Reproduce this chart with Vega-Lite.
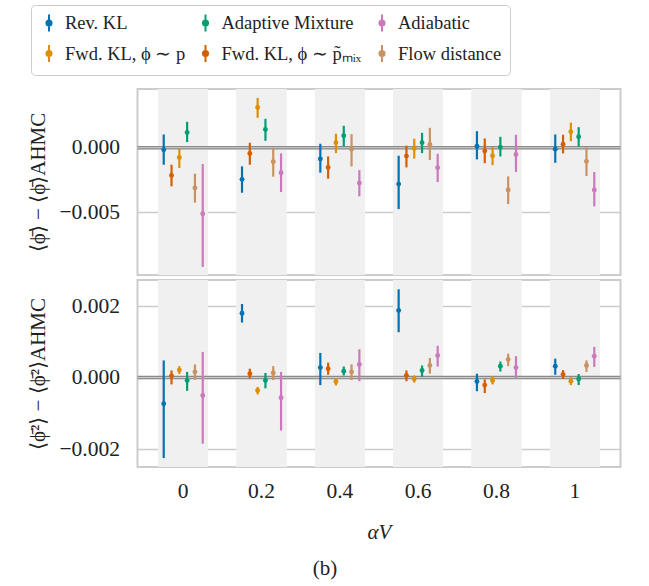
{
  "$schema": "https://vega.github.io/schema/vega-lite/v6.json",
  "padding": {"left": 26.5, "top": 4, "right": 5, "bottom": 5},
  "config": {
    "font": "'Liberation Serif', 'Times New Roman', Times, serif",
    "view": {"stroke": "#cccccc", "strokeWidth": 2},
    "axis": {"labelFont": "'Liberation Serif', 'Times New Roman', Times, serif", "titleFont": "'Liberation Serif', 'Times New Roman', Times, serif", "labelColor": "#222222", "titleColor": "#222222"},
    "legend": {"labelFont": "'Liberation Serif', 'Times New Roman', Times, serif"}
  },
  "title": {"text": "(b)", "orient": "bottom", "anchor": "middle", "frame": "bounds", "fontSize": 21, "fontWeight": "normal", "font": "'Liberation Serif', 'Times New Roman', Times, serif", "color": "#222222", "offset": 14},
  "data": {"values": [
    {"a": "0", "method": "Rev. KL", "m1": -0.00016, "m1lo": -0.00132, "m1hi": 0.00103, "m2": -0.00073, "m2lo": -0.00225, "m2hi": 0.00048},
    {"a": "0", "method": "Fwd. KL, ϕ ∼ p̃ₘᵢₓ", "m1": -0.00215, "m1lo": -0.0030, "m1hi": -0.00132, "m2": 0.00005, "m2lo": -0.00019, "m2hi": 0.0002},
    {"a": "0", "method": "Fwd. KL, ϕ ∼ p", "m1": -0.00075, "m1lo": -0.00158, "m1hi": -0.00008, "m2": 0.00021, "m2lo": 0.0001, "m2hi": 0.00032},
    {"a": "0", "method": "Adaptive Mixture", "m1": 0.00119, "m1lo": 0.00044, "m1hi": 0.00202, "m2": -0.00008, "m2lo": -0.00037, "m2hi": 0.00016},
    {"a": "0", "method": "Flow distance", "m1": -0.00313, "m1lo": -0.00427, "m1hi": -0.00202, "m2": 0.00016, "m2lo": -0.00006, "m2hi": 0.00037},
    {"a": "0", "method": "Adiabatic", "m1": -0.00513, "m1lo": -0.00927, "m1hi": -0.00127, "m2": -0.0005, "m2lo": -0.00185, "m2hi": 0.00072},
    {"a": "0.2", "method": "Rev. KL", "m1": -0.00246, "m1lo": -0.0035, "m1hi": -0.00145, "m2": 0.0018, "m2lo": 0.00154, "m2hi": 0.00206},
    {"a": "0.2", "method": "Fwd. KL, ϕ ∼ p̃ₘᵢₓ", "m1": -0.00044, "m1lo": -0.00132, "m1hi": 0.00039, "m2": 0.00011, "m2lo": -0.00003, "m2hi": 0.00025},
    {"a": "0.2", "method": "Fwd. KL, ϕ ∼ p", "m1": 0.00313, "m1lo": 0.00233, "m1hi": 0.00388, "m2": -0.00036, "m2lo": -0.00047, "m2hi": -0.00026},
    {"a": "0.2", "method": "Adaptive Mixture", "m1": 0.00142, "m1lo": 0.00054, "m1hi": 0.00225, "m2": -0.00008, "m2lo": -0.0003, "m2hi": 0.00013},
    {"a": "0.2", "method": "Flow distance", "m1": -0.00109, "m1lo": -0.00225, "m1hi": 0.0, "m2": 0.00013, "m2lo": -0.00007, "m2hi": 0.00032},
    {"a": "0.2", "method": "Adiabatic", "m1": -0.00194, "m1lo": -0.00345, "m1hi": -0.00044, "m2": -0.00056, "m2lo": -0.00148, "m2hi": 0.00016},
    {"a": "0.4", "method": "Rev. KL", "m1": -0.00088, "m1lo": -0.00194, "m1hi": 0.00031, "m2": 0.00028, "m2lo": -0.00021, "m2hi": 0.00069},
    {"a": "0.4", "method": "Fwd. KL, ϕ ∼ p̃ₘᵢₓ", "m1": -0.00153, "m1lo": -0.00241, "m1hi": -0.00068, "m2": 0.00025, "m2lo": 0.00008, "m2hi": 0.00042},
    {"a": "0.4", "method": "Fwd. KL, ϕ ∼ p", "m1": 0.00039, "m1lo": -0.00042, "m1hi": 0.00109, "m2": -0.00011, "m2lo": -0.00022, "m2hi": -0.00001},
    {"a": "0.4", "method": "Adaptive Mixture", "m1": 0.00093, "m1lo": 0.0001, "m1hi": 0.00171, "m2": 0.00018, "m2lo": 0.00006, "m2hi": 0.00031},
    {"a": "0.4", "method": "Flow distance", "m1": -0.00011, "m1lo": -0.00145, "m1hi": 0.00106, "m2": 0.00016, "m2lo": -0.00007, "m2hi": 0.00037},
    {"a": "0.4", "method": "Adiabatic", "m1": -0.00275, "m1lo": -0.00378, "m1hi": -0.00174, "m2": 0.00037, "m2lo": -0.0001, "m2hi": 0.00079},
    {"a": "0.6", "method": "Rev. KL", "m1": -0.00283, "m1lo": -0.00477, "m1hi": -0.00062, "m2": 0.00188, "m2lo": 0.00127, "m2hi": 0.00247},
    {"a": "0.6", "method": "Fwd. KL, ϕ ∼ p̃ₘᵢₓ", "m1": -0.00065, "m1lo": -0.00153, "m1hi": 0.00016, "m2": 0.00006, "m2lo": -0.0001, "m2hi": 0.0002},
    {"a": "0.6", "method": "Fwd. KL, ϕ ∼ p", "m1": -0.00005, "m1lo": -0.00085, "m1hi": 0.0007, "m2": -0.00004, "m2lo": -0.00014, "m2hi": 0.00006},
    {"a": "0.6", "method": "Adaptive Mixture", "m1": 0.00039, "m1lo": -0.00042, "m1hi": 0.00116, "m2": 0.0002, "m2lo": 0.00003, "m2hi": 0.00034},
    {"a": "0.6", "method": "Flow distance", "m1": 0.00026, "m1lo": -0.00096, "m1hi": 0.00155, "m2": 0.00034, "m2lo": 0.00011, "m2hi": 0.00055},
    {"a": "0.6", "method": "Adiabatic", "m1": -0.00155, "m1lo": -0.00267, "m1hi": -0.00047, "m2": 0.00062, "m2lo": 0.00031, "m2hi": 0.00089},
    {"a": "0.8", "method": "Rev. KL", "m1": 0.00012, "m1lo": -0.00091, "m1hi": 0.00129, "m2": -0.00011, "m2lo": -0.00038, "m2hi": 0.00011},
    {"a": "0.8", "method": "Fwd. KL, ϕ ∼ p̃ₘᵢₓ", "m1": -0.00026, "m1lo": -0.0012, "m1hi": 0.00072, "m2": -0.00021, "m2lo": -0.00043, "m2hi": -0.00005},
    {"a": "0.8", "method": "Fwd. KL, ϕ ∼ p", "m1": -0.00062, "m1lo": -0.00135, "m1hi": 0.00005, "m2": -0.00008, "m2lo": -0.00019, "m2hi": 0.00004},
    {"a": "0.8", "method": "Adaptive Mixture", "m1": 0.00005, "m1lo": -0.00068, "m1hi": 0.00085, "m2": 0.00032, "m2lo": 0.00017, "m2hi": 0.00045},
    {"a": "0.8", "method": "Flow distance", "m1": -0.00329, "m1lo": -0.00438, "m1hi": -0.00223, "m2": 0.00051, "m2lo": 0.00032, "m2hi": 0.00067},
    {"a": "0.8", "method": "Adiabatic", "m1": -0.00052, "m1lo": -0.00189, "m1hi": 0.00101, "m2": 0.00028, "m2lo": -0.00001, "m2hi": 0.0006},
    {"a": "1", "method": "Rev. KL", "m1": -0.00011, "m1lo": -0.00117, "m1hi": 0.00103, "m2": 0.00032, "m2lo": 0.00008, "m2hi": 0.00053},
    {"a": "1", "method": "Fwd. KL, ϕ ∼ p̃ₘᵢₓ", "m1": 0.00028, "m1lo": -0.00044, "m1hi": 0.00101, "m2": 0.00009, "m2lo": -0.00004, "m2hi": 0.00021},
    {"a": "1", "method": "Fwd. KL, ϕ ∼ p", "m1": 0.00124, "m1lo": 0.00051, "m1hi": 0.00196, "m2": -0.0001, "m2lo": -0.00021, "m2hi": 0.00001},
    {"a": "1", "method": "Adaptive Mixture", "m1": 0.00085, "m1lo": 0.00008, "m1hi": 0.0016, "m2": -0.00004, "m2lo": -0.00021, "m2hi": 0.0001},
    {"a": "1", "method": "Flow distance", "m1": -0.00106, "m1lo": -0.0022, "m1hi": 0.00002, "m2": 0.00034, "m2lo": 0.00016, "m2hi": 0.00048},
    {"a": "1", "method": "Adiabatic", "m1": -0.00329, "m1lo": -0.00456, "m1hi": -0.00189, "m2": 0.0006, "m2lo": 0.0003, "m2hi": 0.00086}
  ]},
  "spacing": 3,
  "vconcat": [
    {
      "width": 483,
      "height": 186,
      "resolve": {"scale": {"xOffset": "independent"}},
      "layer": [
        {"mark": {"type": "bar", "color": "#f0f0f0", "width": {"band": 1}},
         "encoding": {"x": {"field": "a", "type": "ordinal", "sort": ["0","0.2","0.4","0.6","0.8","1"], "scale": {"paddingInner": 0.368, "paddingOuter": 0.268}, "axis": null}}},
        {"data": {"values": [{}]}, "mark": {"type": "rule", "color": "#8a8a8a", "strokeWidth": 3.5}, "encoding": {"y": {"datum": 0}}},
        {"data": {"values": [{}]}, "mark": {"type": "rule", "color": "#d4d4d4", "strokeWidth": 1}, "encoding": {"y": {"datum": 0}}},
        {"mark": {"type": "rule", "strokeWidth": 2.2},
         "encoding": {
           "x": {"field": "a", "type": "ordinal", "sort": ["0","0.2","0.4","0.6","0.8","1"], "scale": {"paddingInner": 0.368, "paddingOuter": 0.268}},
           "xOffset": {"field": "method", "type": "nominal", "scale": {"type": "point", "padding": 0.67, "domain": ["Rev. KL", "Fwd. KL, ϕ ∼ p̃ₘᵢₓ", "Fwd. KL, ϕ ∼ p", "Adaptive Mixture", "Flow distance", "Adiabatic"]}},
           "y": {"field": "m1lo", "type": "quantitative"},
           "y2": {"field": "m1hi"},
           "color": {"field": "method", "type": "nominal"}
         }},
        {"mark": {"type": "point", "filled": true, "size": 24, "opacity": 1},
         "encoding": {
           "x": {"field": "a", "type": "ordinal", "sort": ["0","0.2","0.4","0.6","0.8","1"], "scale": {"paddingInner": 0.368, "paddingOuter": 0.268}},
           "xOffset": {"field": "method", "type": "nominal", "scale": {"type": "point", "padding": 0.67, "domain": ["Rev. KL", "Fwd. KL, ϕ ∼ p̃ₘᵢₓ", "Fwd. KL, ϕ ∼ p", "Adaptive Mixture", "Flow distance", "Adiabatic"]}},
           "y": {"field": "m1", "type": "quantitative",
                 "scale": {"domain": [-0.0099, 0.00457], "nice": false, "zero": false},
                 "axis": {"values": [-0.005, 0], "format": ".3f", "grid": true, "gridColor": "#cccccc", "gridWidth": 1.6, "domain": false, "ticks": false, "tickSize": 0, "labelFontSize": 21.5, "labelPadding": 18,
                          "title": "⟨ϕ̄⟩ − ⟨ϕ̄⟩AHMC", "titleFontSize": 21, "titleFontWeight": "normal", "titlePadding": 10}},
           "color": {"field": "method", "type": "nominal",
                     "scale": {"domain": ["Rev. KL", "Adaptive Mixture", "Adiabatic", "Fwd. KL, ϕ ∼ p", "Fwd. KL, ϕ ∼ p̃ₘᵢₓ", "Flow distance"],
                               "range": ["#0173b2", "#029e73", "#cc78bc", "#de8f05", "#d55e00", "#ca9161"]},
                     "legend": {"orient": "none", "legendX": -106.5, "legendY": -84, "columns": 3, "direction": "horizontal", "title": null,
                                "labelFontSize": 18.5, "labelColor": "#222222", "labelLimit": 300,
                                "symbolType": "M0,-1L0,1M0.3,0A0.3,0.3,0,1,1,-0.3,0A0.3,0.3,0,1,1,0.3,0Z",
                                "symbolSize": 289, "symbolStrokeWidth": 2, "symbolOpacity": 1,
                                "strokeColor": "#cccccc", "fillColor": "#ffffff", "cornerRadius": 4, "padding": 8.5,
                                "columnPadding": 10.5, "rowPadding": 5.5, "labelOffset": 6.5,
                                "encode": {"symbols": {"update": {"fill": {"scale": "color", "field": "value"}, "stroke": {"scale": "color", "field": "value"}, "opacity": {"value": 1}}}}}}
         }}
      ]
    },
    {
      "width": 483,
      "height": 187,
      "resolve": {"scale": {"xOffset": "independent"}},
      "layer": [
        {"mark": {"type": "bar", "color": "#f0f0f0", "width": {"band": 1}},
         "encoding": {"x": {"field": "a", "type": "ordinal", "sort": ["0","0.2","0.4","0.6","0.8","1"], "scale": {"paddingInner": 0.368, "paddingOuter": 0.268},
                            "axis": {"title": "αV", "titleFontStyle": "italic", "titleFontWeight": "normal", "titleFontSize": 21, "titlePadding": 20, "labelAngle": 0, "labelFontSize": 21.5, "labelPadding": 13, "ticks": false, "tickSize": 0, "domain": false, "grid": false}}}},
        {"data": {"values": [{}]}, "mark": {"type": "rule", "color": "#8a8a8a", "strokeWidth": 3.5}, "encoding": {"y": {"datum": 0}}},
        {"data": {"values": [{}]}, "mark": {"type": "rule", "color": "#d4d4d4", "strokeWidth": 1}, "encoding": {"y": {"datum": 0}}},
        {"mark": {"type": "rule", "strokeWidth": 2.2},
         "encoding": {
           "x": {"field": "a", "type": "ordinal", "sort": ["0","0.2","0.4","0.6","0.8","1"], "scale": {"paddingInner": 0.368, "paddingOuter": 0.268}},
           "xOffset": {"field": "method", "type": "nominal", "scale": {"type": "point", "padding": 0.67, "domain": ["Rev. KL", "Fwd. KL, ϕ ∼ p̃ₘᵢₓ", "Fwd. KL, ϕ ∼ p", "Adaptive Mixture", "Flow distance", "Adiabatic"]}},
           "y": {"field": "m2lo", "type": "quantitative"},
           "y2": {"field": "m2hi"},
           "color": {"field": "method", "type": "nominal"}
         }},
        {"mark": {"type": "point", "filled": true, "size": 24, "opacity": 1},
         "encoding": {
           "x": {"field": "a", "type": "ordinal", "sort": ["0","0.2","0.4","0.6","0.8","1"], "scale": {"paddingInner": 0.368, "paddingOuter": 0.268}},
           "xOffset": {"field": "method", "type": "nominal", "scale": {"type": "point", "padding": 0.67, "domain": ["Rev. KL", "Fwd. KL, ϕ ∼ p̃ₘᵢₓ", "Fwd. KL, ϕ ∼ p", "Adaptive Mixture", "Flow distance", "Adiabatic"]}},
           "y": {"field": "m2", "type": "quantitative",
                 "scale": {"domain": [-0.0025, 0.00273], "nice": false, "zero": false},
                 "axis": {"values": [-0.002, 0, 0.002], "format": ".3f", "grid": true, "gridColor": "#cccccc", "gridWidth": 1.6, "domain": false, "ticks": false, "tickSize": 0, "labelFontSize": 21.5, "labelPadding": 18,
                          "title": "⟨ϕ̄²⟩ − ⟨ϕ̄²⟩AHMC", "titleFontSize": 21, "titleFontWeight": "normal", "titlePadding": 10}},
           "color": {"field": "method", "type": "nominal"}
         }}
      ]
    }
  ]
}
